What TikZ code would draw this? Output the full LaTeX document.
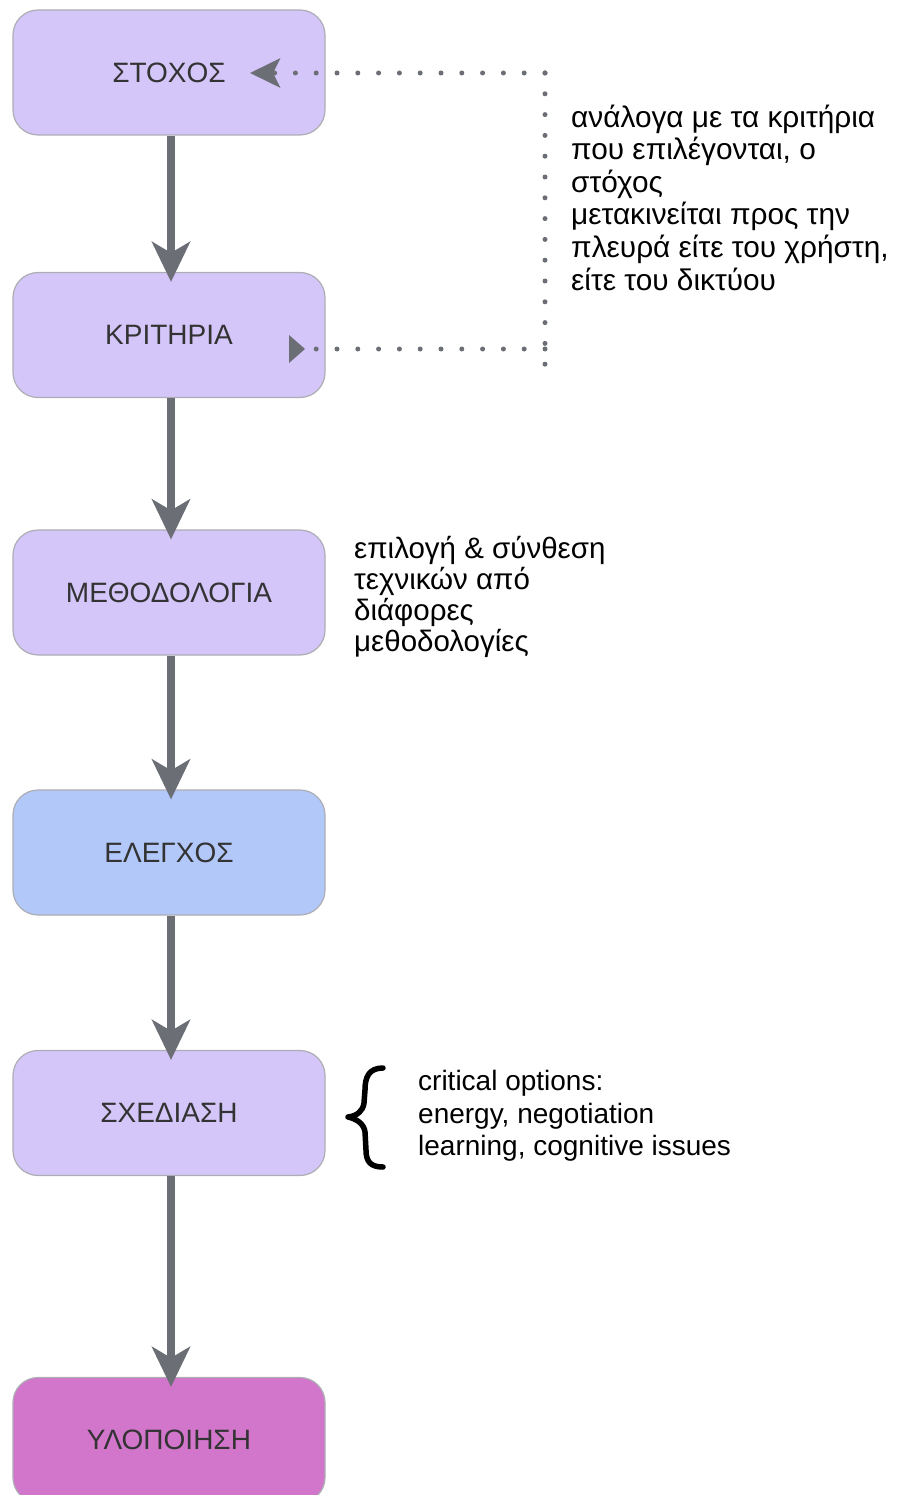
\documentclass[tikz,border=0pt]{standalone}
\usepackage{fontspec}
\setsansfont{Liberation Sans}
\usetikzlibrary{arrows.meta}
\definecolor{lilac}{HTML}{D5C6F9}
\definecolor{skyblue}{HTML}{B2C8F9}
\definecolor{orchid}{HTML}{D276CC}
\definecolor{edgegray}{HTML}{ADADB4}
\definecolor{flowgray}{HTML}{6B6E75}
\definecolor{labelink}{HTML}{333333}
\tikzset{
  stage/.style={draw=edgegray, line width=1.2pt, rounded corners=25pt,
    minimum width=312pt, minimum height=125pt, inner sep=0pt,
    font=\sffamily\fontsize{28}{32}\selectfont, text=labelink},
  flow/.style={draw=flowgray, line width=8pt,
    -{Stealth[length=40pt, width=38pt, inset=11pt]}},
  dotline/.style={draw=flowgray, line width=5pt, line cap=round,
    dash pattern=on 0pt off 20.8pt},
  note/.style={anchor=north west, inner sep=0pt, align=left, text=black},
  greeknote/.style={note, font=\sffamily\fontsize{29.8}{32.6}\selectfont},
  latinnote/.style={note, font=\sffamily\fontsize{28}{32.6}\selectfont}
}
\begin{document}
\begin{tikzpicture}[x=1pt, y=-1pt]
  \useasboundingbox (0,0) rectangle (907,1495);
  \begin{scope}
  \clip (0,0) rectangle (907,1495);

  % process stages
  \node[stage, fill=lilac]   (goal)     at (169,72.5)  {ΣΤΟΧΟΣ};
  \node[stage, fill=lilac]   (criteria) at (169,335)   {ΚΡΙΤΗΡΙΑ};
  \node[stage, fill=lilac]   (method)   at (169,592.5) {ΜΕΘΟΔΟΛΟΓΙΑ};
  \node[stage, fill=skyblue] (check)    at (169,852.5) {ΕΛΕΓΧΟΣ};
  \node[stage, fill=lilac]   (design)   at (169,1113)  {ΣΧΕΔΙΑΣΗ};
  \node[stage, fill=orchid]  (build)    at (169,1440)  {ΥΛΟΠΟΙΗΣΗ};

  % main flow
  \draw[flow] ([xshift=2pt]goal.south)     -- ([xshift=2pt,yshift=-10pt]criteria.north);
  \draw[flow] ([xshift=2pt]criteria.south) -- ([xshift=2pt,yshift=-10pt]method.north);
  \draw[flow] ([xshift=2pt]method.south)   -- ([xshift=2pt,yshift=-10pt]check.north);
  \draw[flow] ([xshift=2pt]check.south)    -- ([xshift=2pt,yshift=-10pt]design.north);
  \draw[flow] ([xshift=2pt]design.south)   -- ([xshift=2pt,yshift=-10pt]build.north);

  % feedback loop between criteria and goal
  \coordinate (goalin)  at (250,73);
  \coordinate (critin)  at (305,349);
  \coordinate (loopTop) at (545,73);
  \coordinate (loopMid) at (545,349);
  \coordinate (loopEnd) at (545,370);
  \draw[dotline] (loopTop) -- (loopEnd);
  \draw[dotline] (loopMid) -- (critin);
  \draw[dotline, -{Stealth[length=30pt, width=29pt, inset=7pt]}] (loopTop) -- (goalin);
  \fill[flowgray] (critin) -- ++(-16,-14) -- ++(0,28) -- cycle;

  % side notes
  \node[greeknote] (loopnote) at (571,104.5) {ανάλογα με τα κριτήρια\\που επιλέγονται, ο\\στόχος\\μετακινείται προς την\\πλευρά είτε του χρήστη,\\είτε του δικτύου};
  \node[greeknote, font=\sffamily\fontsize{29.5}{31}\selectfont] (methodnote) at (354,536) {επιλογή \& σύνθεση\\τεχνικών από\\διάφορες\\μεθοδολογίες};
  \node[latinnote] (designnote) at (418,1070) {critical options:\\energy, negotiation\\learning, cognitive issues};

  % curly brace grouping the design options
  \draw[black, line width=5.5pt, line cap=round, line join=round]
    (383,1068) .. controls (369,1068) and (365,1077) .. (365,1090)
    -- (364,1103) .. controls (363,1111) and (357,1116) .. (348,1117)
    .. controls (357,1119) and (364,1124) .. (365,1132)
    -- (366,1150) .. controls (366,1162) and (371,1167) .. (383,1167);
  \end{scope}
\end{tikzpicture}
\end{document}
